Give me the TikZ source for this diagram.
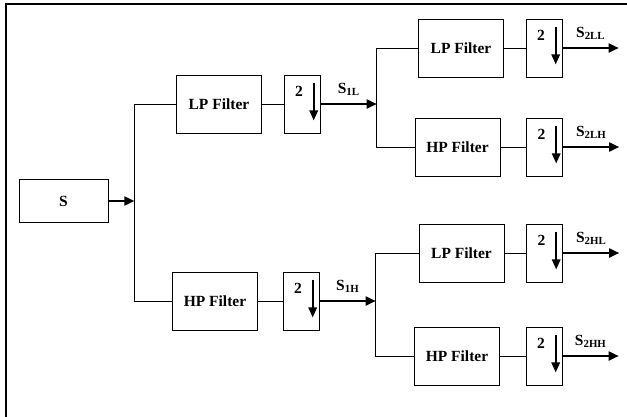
\documentclass[tikz,border=0pt]{standalone}
\usepackage{fontspec}
\setmainfont{Liberation Serif}
\usetikzlibrary{positioning, arrows.meta}

\begin{document}
\begin{tikzpicture}[
    x=1pt, y=-1pt,
    box/.style={
        rectangle,
        draw,
        line width=0.8pt,
        minimum width=89pt,
        minimum height=43pt,
        inner sep=0pt,
        font=\fontsize{15.5}{18}\selectfont\bfseries
    },
    filter/.style={
        box,
        minimum width=85pt,
        minimum height=58pt
    },
    dsbox/.style={
        box,
        minimum width=36pt,
        minimum height=58pt
    },
    lbl/.style={
        font=\fontsize{15.5}{18}\selectfont\bfseries
    },
    link/.style={
        line width=0.8pt
    },
    arrow/.style={
        line width=1.8pt,
        -{Triangle[length=10pt,width=9pt]}
    },
    dsarrow/.style={
        line width=1.6pt,
        -{Triangle[length=10pt,width=8.5pt]}
    }
]

\useasboundingbox (0,0) rectangle (627,416);

% Frame

\draw[line width=2pt] (6,420) |- (630,3.5);

% Input

\node[box] (s) at (63.5,201) {S};
\coordinate[right=26pt of s] (j0);

% First stage

\node[filter] (lp1) at (219,104) {LP Filter};
\node[filter] (hp1) at (215,301) {HP Filter};

\node[dsbox, right=22pt of lp1] (ds1) {};
\node[dsbox, right=25pt of hp1] (ds3) {};

\coordinate[right=56pt of ds1] (j1);
\coordinate[right=56pt of ds3] (j2);

% Second stage

\node[filter] (lp2) at (461,48) {LP Filter};
\node[filter] (hp2) at (457.5,147) {HP Filter};
\node[filter] (lp3) at (461.5,253) {LP Filter};
\node[filter] (hp4) at (457,356) {HP Filter};

\node[dsbox, right=22pt of lp2] (ds2) {};
\node[dsbox, right=26pt of hp2] (ds4) {};
\node[dsbox, right=22pt of lp3] (ds5) {};
\node[dsbox, right=26pt of hp4] (ds6) {};

\coordinate[right=56pt of ds2] (o2ll);
\coordinate[right=56pt of ds4] (o2lh);
\coordinate[right=56pt of ds5] (o2hl);
\coordinate[right=56pt of ds6] (o2hh);

% Downsampling boxes

\foreach \d in {ds1,ds2,ds3,ds4,ds5,ds6} {
    \node[lbl] (\d-two) at ([xshift=15pt,yshift=-17pt]\d.north west) {2};
    \draw[dsarrow] ([xshift=-7pt,yshift=-8pt]\d.north east)
        -- ([xshift=-7pt,yshift=13pt]\d.south east);
}

% Connections

\draw[arrow] (s)--(j0);
\draw[link] (lp1.west) -| (j0) |- (hp1.west);

\draw[link] (lp1)--(ds1);
\draw[link] (hp1)--(ds3);

\draw[arrow] (ds1)--node[lbl, above=4pt]{S\textsubscript{1L}}(j1);
\draw[arrow] (ds3)--node[lbl, above=4pt]{S\textsubscript{1H}}(j2);

\draw[link] (lp2.west) -| (j1) |- (hp2.west);
\draw[link] (lp3.west) -| (j2) |- (hp4.west);

\draw[link] (lp2)--(ds2);
\draw[link] (hp2)--(ds4);
\draw[link] (lp3)--(ds5);
\draw[link] (hp4)--(ds6);

\draw[arrow] (ds2)--node[lbl, above=4pt]{S\textsubscript{2LL}}(o2ll);
\draw[arrow] (ds4)--node[lbl, above=4pt]{S\textsubscript{2LH}}(o2lh);
\draw[arrow] (ds5)--node[lbl, above=4pt]{S\textsubscript{2HL}}(o2hl);
\draw[arrow] (ds6)--node[lbl, above=4pt]{S\textsubscript{2HH}}(o2hh);

\end{tikzpicture}
\end{document}
